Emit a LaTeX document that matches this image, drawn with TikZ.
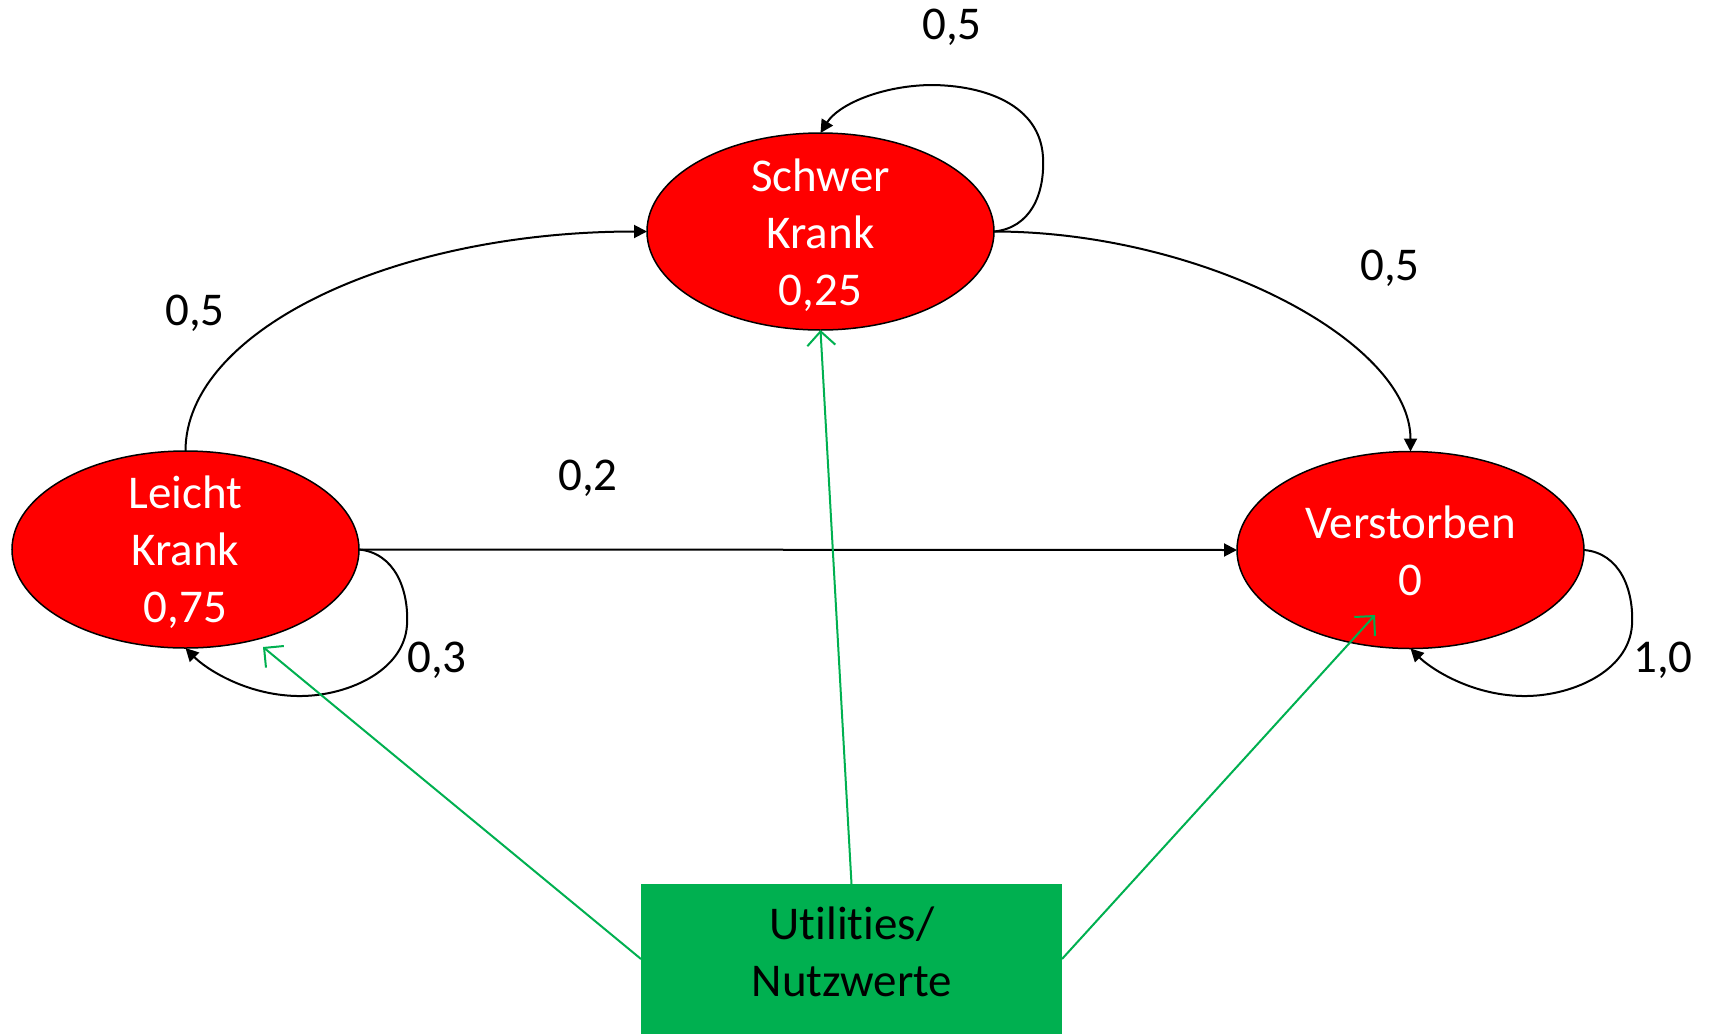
\documentclass[tikz,border=0pt]{standalone}
\usepackage{fontspec}
\setmainfont{Carlito}[Ligatures=NoCommon]
\usetikzlibrary{arrows.meta,shapes.geometric}
\definecolor{statered}{HTML}{FF0000}
\definecolor{utilgreen}{HTML}{00B050}
\begin{document}
\begin{tikzpicture}[x=0.5pt,y=-0.5pt,
  state/.style={ellipse, draw=black, line width=0.75pt, fill=statered,
    minimum width=173.5pt, minimum height=98.5pt, inner sep=0pt, outer sep=0pt},
  statetext/.style={text=white, align=center, inner sep=0pt,
    font=\fontsize{23.5}{28.5}\selectfont},
  prob/.style={text=black, inner sep=0pt, anchor=base,
    font=\fontsize{23.5}{28.5}\selectfont},
  trans/.style={draw=black, line width=1pt, -{Triangle[length=6.5pt,width=6.5pt]}},
  utilbox/.style={rectangle, fill=utilgreen, minimum width=210.5pt,
    minimum height=75pt, inner sep=0pt, outer sep=0pt},
  utiltext/.style={text=black, align=center, inner sep=0pt,
    font=\fontsize{23.5}{28.5}\selectfont},
  utilarrow/.style={draw=utilgreen, line width=1pt,
    -{Straight Barb[length=7pt,width=14pt]}}]

\useasboundingbox (0,0) rectangle (1710,1034);

% states
\node[state] (s) at (820.5,231.5) {};
\node[statetext] (st) at (820.5,235) {Schwer\\Krank\\0,25};
\node[state] (l) at (185.5,549.5) {};
\node[statetext] (lt) at (185.5,552) {Leicht\\Krank\\0,75};
\node[state] (v) at (1410.5,550) {};
\node[statetext] (vt) at (1410.5,551) {Verstorben\\0};

% utilities box
\node[utilbox] (u) at (851.5,959) {};
\node[utiltext] (ut) at (852,952) {Utilities/\\Nutzwerte};

% transitions
\draw[trans] (l.north) .. controls (185.5,331) and (392,231.5) .. (s.west);
\draw[trans] (s.east) .. controls (1200,231.5) and (1410.5,340) .. (v.north);
\draw[trans] (l.east) -- (v.west);

% self loops
\draw[trans] (s.east) .. controls (1030,228) and (1045,195) .. (1043,157)
  .. controls (1040,105) and (985,85) .. (930,85)
  .. controls (880,86) and (838,105) .. (s.north);
\draw[trans] (l.east) .. controls (395,553) and (409,590) .. (407,625)
  .. controls (404,672) and (345,697) .. (297,696)
  .. controls (245,695) and (205,668) .. (l.south);
\draw[trans] (v.east) .. controls (1620,553) and (1634,590) .. (1632,625)
  .. controls (1629,672) and (1570,697) .. (1522,696)
  .. controls (1470,695) and (1430,668) .. (v.south);

% probabilities
\node[prob] (p1) at (952,39) {0,5};
\node[prob] (p2) at (195,325) {0,5};
\node[prob] (p3) at (588,490) {0,2};
\node[prob] (p4) at (1390,280) {0,5};
\node[prob] (p5) at (437,672) {0,3};
\node[prob] (p6) at (1663,672) {1,0};

% utility pointers
\coordinate (lu) at (263,647);
\coordinate (vu) at (1375,615);
\draw[utilarrow] (u.west) -- (lu);
\draw[utilarrow] (u.north) -- (s.south);
\draw[utilarrow] (u.east) -- (vu);
\end{tikzpicture}
\end{document}
